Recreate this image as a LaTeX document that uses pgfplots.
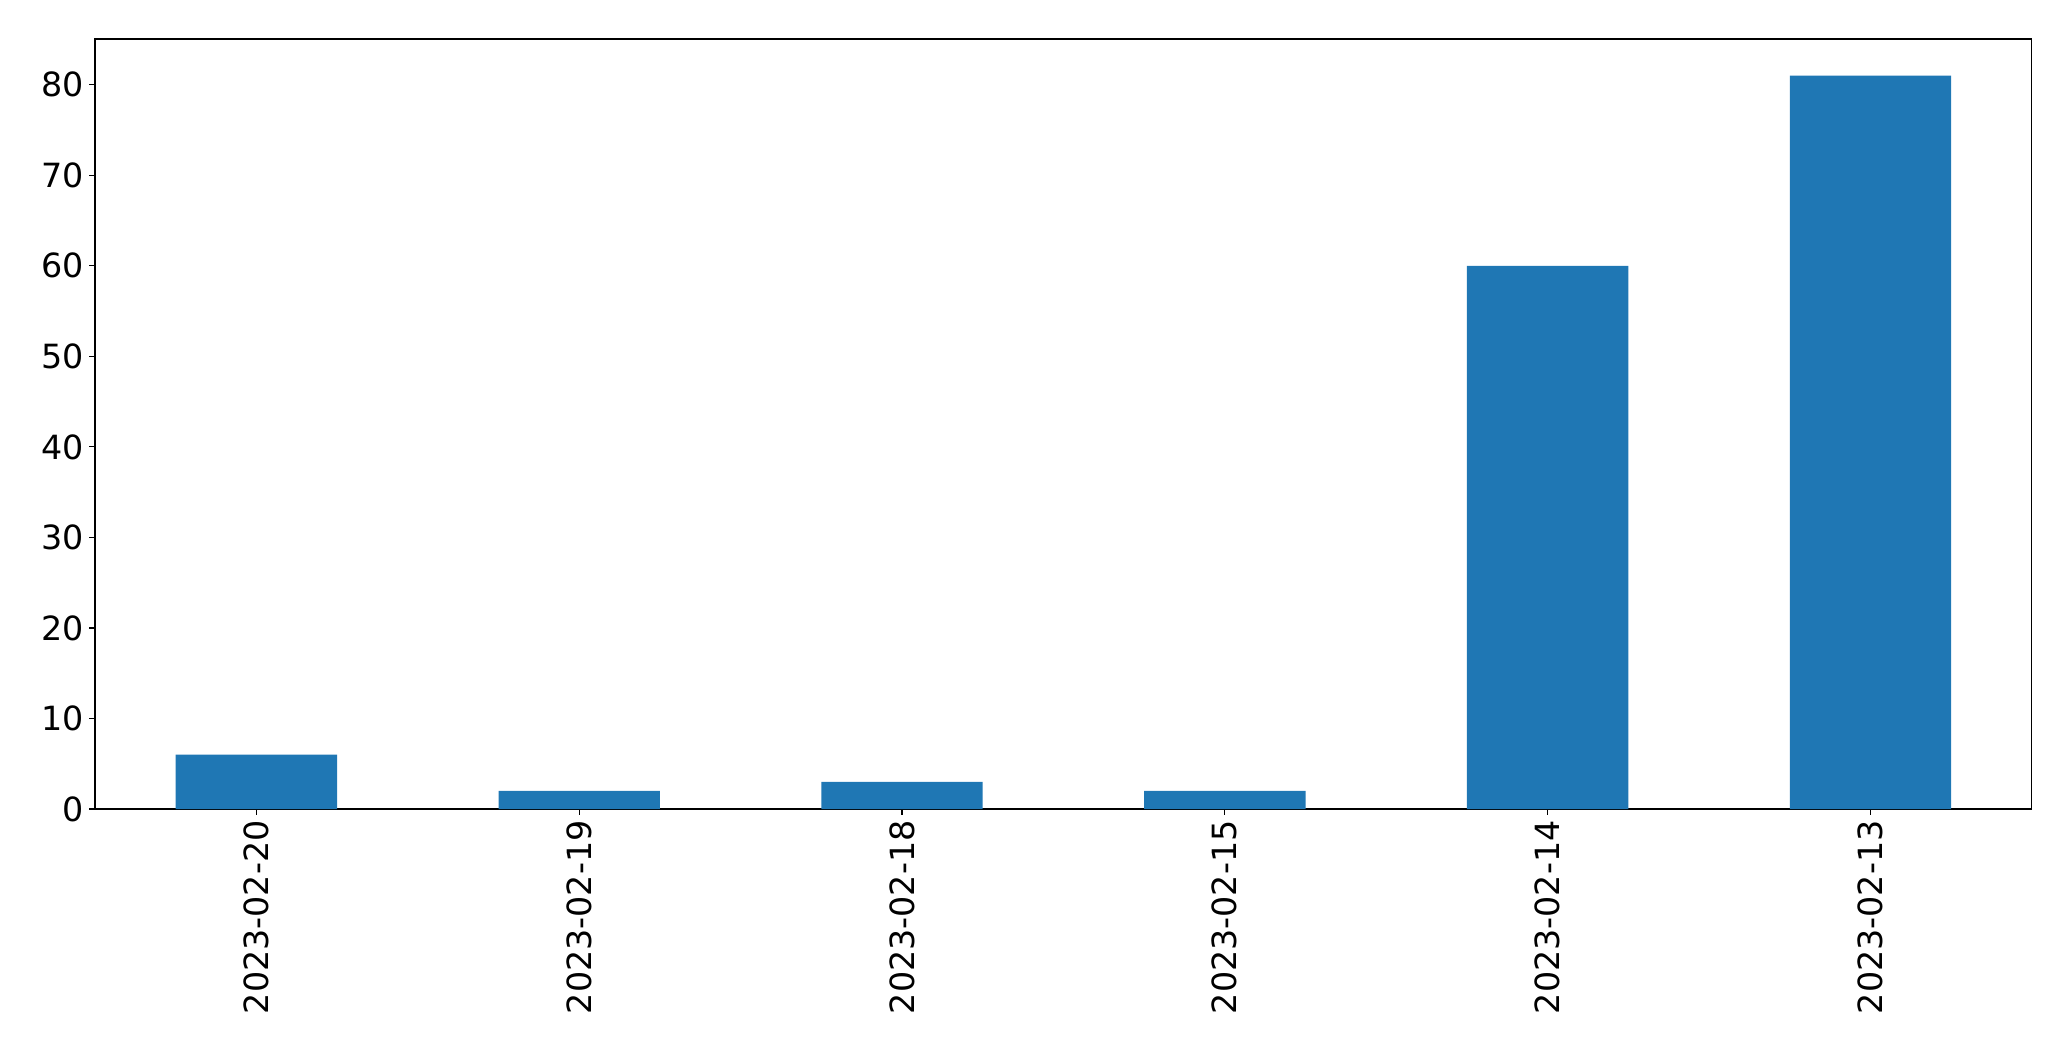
\documentclass[border=0pt]{standalone}
\usepackage{fontspec}
\setmainfont{DejaVu Sans}
\usepackage{pgfplots}
\pgfplotsset{compat=1.18}
\definecolor{barblue}{HTML}{1F77B4}
\begin{document}
\begin{tikzpicture}
\useasboundingbox (-68.4pt,-181.4pt) rectangle (1422.7pt,582.5pt);
\begin{axis}[
    at={(0,0)}, anchor=south west,
    scale only axis, width=1394.6pt, height=554.4pt,
    xmin=-0.5, xmax=5.5, ymin=0, ymax=85.05,
    ybar, bar width=0.5,
    xtick={0,...,5},
    xticklabels={2023-02-20,2023-02-19,2023-02-18,2023-02-15,2023-02-14,2023-02-13},
    ytick={0,10,...,80},
    x tick label style={rotate=90, anchor=east, inner sep=4pt},
    y tick label style={inner sep=4pt},
    tick label style={font=\fontsize{24}{29}\selectfont},
    /pgf/number format/assume math mode=true,
    tick align=outside, xtick pos=bottom, ytick pos=left,
    major tick length=4pt,
    tick style={black, line width=0.8pt},
    axis line style={line width=0.8pt},
]
% counts per day
\addplot[fill=barblue, draw=none] coordinates {
    (0,6) (1,2) (2,3) (3,2) (4,60) (5,81)
};
\end{axis}
\end{tikzpicture}
\end{document}
